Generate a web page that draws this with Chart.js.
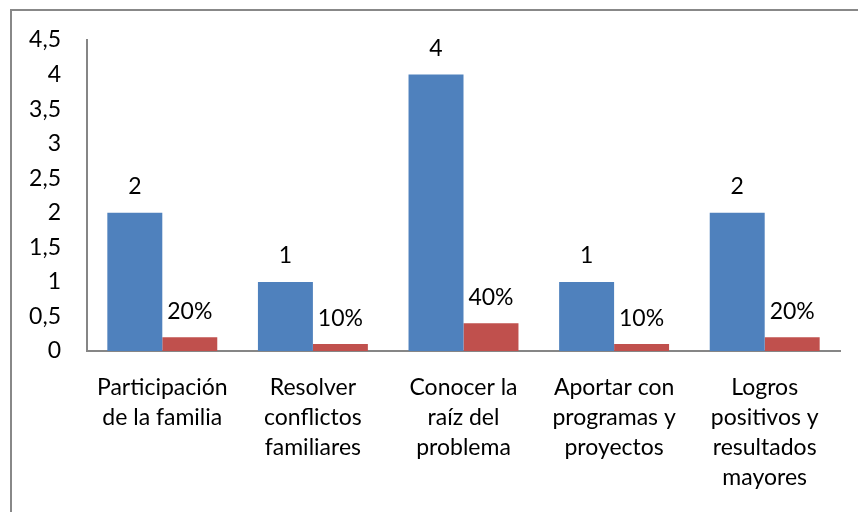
<!DOCTYPE html>
<html lang="es">
<head>
<meta charset="UTF-8">
<title>Gráfico</title>
<script src="https://cdn.jsdelivr.net/npm/chart.js"></script>
<style>
  body { margin: 0; padding: 0; background: #fff; }
  canvas { display: block; }
</style>
</head>
<body>
<canvas id="chart" width="858" height="512"></canvas>
<script>
// datos
const categories = [
  ['Participación', 'de la familia'],
  ['Resolver', 'conflictos', 'familiares'],
  ['Conocer la', 'raíz del', 'problema'],
  ['Aportar con', 'programas y', 'proyectos'],
  ['Logros', 'positivos y', 'resultados', 'mayores']
];
const counts = [2, 1, 4, 1, 2];
const shares = [0.2, 0.1, 0.4, 0.1, 0.2];
const yMax = 4.5;
const yStep = 0.5;

const FONT = 'Lato, "Noto Sans", sans-serif';
const SIZE = 23;

// marco gris (izquierda y arriba, como en el original recortado)
const framePlugin = {
  id: 'frame',
  beforeDraw(chart) {
    const ctx = chart.ctx;
    ctx.save();
    ctx.strokeStyle = '#888888';
    ctx.lineWidth = 2;
    ctx.beginPath();
    ctx.moveTo(11, 512);
    ctx.lineTo(11, 10);
    ctx.lineTo(858, 10);
    ctx.stroke();
    ctx.restore();
  }
};

// etiquetas de valor encima de cada barra
const valueLabels = {
  id: 'valueLabels',
  afterDatasetsDraw(chart) {
    const ctx = chart.ctx;
    ctx.save();
    ctx.font = SIZE + 'px ' + FONT;
    ctx.fillStyle = '#000';
    ctx.textAlign = 'center';
    ctx.textBaseline = 'middle';
    chart.data.datasets.forEach((ds, i) => {
      chart.getDatasetMeta(i).data.forEach((bar, j) => {
        const v = ds.data[j];
        const txt = i === 0 ? String(v) : Math.round(v * 100) + '%';
        ctx.fillText(txt, bar.x, bar.y - 26);
      });
    });
    ctx.restore();
  }
};

new Chart(document.getElementById('chart'), {
  type: 'bar',
  data: {
    labels: categories,
    datasets: [
      { label: 'Cantidad', data: counts, backgroundColor: '#4F81BD' },
      { label: 'Porcentaje', data: shares, backgroundColor: '#C0504D' }
    ]
  },
  options: {
    responsive: false,
    animation: false,
    layout: { padding: { top: 40, right: 18, left: 0, bottom: 0 } },
    datasets: { bar: { categoryPercentage: 0.73, barPercentage: 1 } },
    plugins: { legend: { display: false }, tooltip: { enabled: false } },
    scales: {
      x: {
        grid: { display: false, drawTicks: false },
        border: { display: true, color: '#868686', width: 2 },
        ticks: {
          color: '#000',
          font: { family: FONT, size: SIZE, lineHeight: 30 / SIZE },
          padding: 22,
          maxRotation: 0,
          autoSkip: false
        },
        afterFit(scale) { scale.height = 161; }
      },
      y: {
        min: 0,
        max: yMax,
        grid: { display: false, drawTicks: false },
        border: { display: true, color: '#868686', width: 2 },
        ticks: {
          stepSize: yStep,
          color: '#000',
          padding: 26,
          font: { family: FONT, size: SIZE },
          callback: v => String(v).replace('.', ',')
        },
        afterFit(scale) { scale.width = 87; }
      }
    }
  },
  plugins: [framePlugin, valueLabels]
});
</script>
</body>
</html>
